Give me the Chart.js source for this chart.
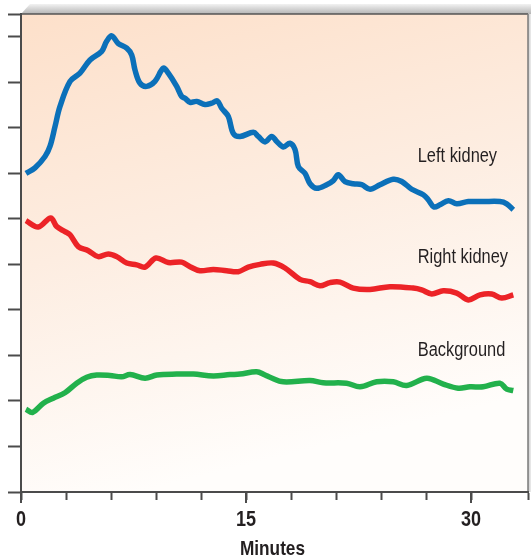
<!DOCTYPE html>
<html>
<head>
<meta charset="utf-8">
<script src="https://cdn.jsdelivr.net/npm/chart.js@4.4.1/dist/chart.umd.min.js"></script>
<style>
  html, body { margin: 0; padding: 0; background: #fff; }
  #wrap { width: 531px; height: 559px; position: relative; }
</style>
</head>
<body>
<div id="wrap"><canvas id="renogram"></canvas></div>
<script>
// Renogram activity curves (arbitrary counts vs. minutes)
const leftKidneyMin = [0.33, 0.93, 1.6, 1.93, 2.27, 2.6, 3.27, 3.93, 4.6, 5.38, 5.71, 6.05, 6.49, 7.05, 7.38, 7.6, 7.93, 8.38, 8.93, 9.49, 9.82, 10.38, 10.71, 10.93, 11.27, 11.71, 12.27, 12.71, 13.09, 13.38, 13.82, 14.15, 14.6, 15.49, 15.82, 16.27, 16.71, 17.05, 17.49, 17.93, 18.27, 18.49, 18.93, 19.27, 19.71, 20.38, 20.82, 21.15, 21.6, 22.15, 22.71, 23.27, 23.93, 24.82, 25.38, 26.05, 26.82, 27.15, 27.53, 27.93, 28.49, 29.05, 29.82, 30.82, 31.93, 32.38, 32.82];
const leftKidneyVal = [7.0, 7.12, 7.37, 7.59, 8.03, 8.47, 9.02, 9.2, 9.49, 9.68, 9.9, 10.02, 9.85, 9.75, 9.6, 9.27, 8.98, 8.91, 9.02, 9.31, 9.2, 8.91, 8.69, 8.65, 8.56, 8.58, 8.51, 8.54, 8.59, 8.43, 8.25, 7.88, 7.81, 7.9, 7.81, 7.69, 7.81, 7.7, 7.58, 7.66, 7.52, 7.15, 7.0, 6.77, 6.67, 6.75, 6.84, 6.97, 6.82, 6.77, 6.75, 6.65, 6.75, 6.87, 6.82, 6.65, 6.53, 6.42, 6.26, 6.31, 6.4, 6.33, 6.38, 6.38, 6.38, 6.33, 6.2];

const rightKidneyMin = [0.33, 1.15, 1.98, 2.38, 2.93, 3.27, 3.82, 4.49, 5.15, 5.82, 6.38, 7.05, 7.71, 8.27, 9.0, 9.82, 10.71, 11.27, 11.93, 12.82, 13.71, 14.49, 15.15, 15.93, 16.82, 17.6, 18.6, 19.27, 19.93, 20.6, 21.27, 22.15, 23.27, 24.6, 26.15, 26.71, 27.38, 28.15, 29.05, 29.82, 30.6, 31.38, 32.05, 32.82];
const rightKidneyVal = [5.96, 5.82, 6.02, 5.83, 5.72, 5.65, 5.39, 5.3, 5.17, 5.23, 5.17, 5.03, 4.99, 4.94, 5.14, 5.04, 5.05, 4.95, 4.86, 4.89, 4.86, 4.84, 4.94, 5.0, 5.03, 4.92, 4.67, 4.62, 4.53, 4.6, 4.61, 4.48, 4.45, 4.51, 4.48, 4.44, 4.35, 4.42, 4.37, 4.22, 4.33, 4.35, 4.26, 4.33];

const backgroundMin = [0.33, 0.78, 1.49, 2.15, 2.93, 3.71, 4.38, 5.05, 5.93, 6.71, 7.27, 8.27, 9.05, 10.38, 11.49, 12.82, 13.93, 14.6, 15.71, 16.27, 16.6, 17.49, 19.27, 20.15, 21.71, 22.6, 23.71, 24.82, 25.71, 27.05, 28.15, 29.15, 29.93, 30.82, 31.93, 32.38, 32.82];
const backgroundVal = [1.82, 1.75, 1.95, 2.06, 2.18, 2.39, 2.52, 2.57, 2.56, 2.53, 2.58, 2.5, 2.57, 2.59, 2.59, 2.55, 2.58, 2.59, 2.64, 2.57, 2.52, 2.42, 2.45, 2.4, 2.39, 2.31, 2.42, 2.42, 2.34, 2.5, 2.37, 2.28, 2.31, 2.31, 2.39, 2.26, 2.23];

const seriesNames = ['Left kidney', 'Right kidney', 'Background'];
const seriesColors = ['#0b70b9', '#ec2327', '#22b14c'];
// where each curve's name sits (minutes, value)
const nameMin = [26.45, 26.45, 26.45];
const nameVal = [7.38, 5.16, 3.1];

const xLabelled = [0, 15, 30];
const xTitle = 'Minutes';

const textColor = '#231f20';
const axisColor = '#4b4b4b';
const font = "'Liberation Sans', Arial, sans-serif";
const squeeze = 0.82;   // condensed lettering

function toPoints(xs, ys) {
  return xs.map((x, i) => ({ x: x, y: ys[i] }));
}

function narrowText(ctx, text, x, y) {
  ctx.save();
  ctx.translate(x, y);
  ctx.scale(squeeze, 1);
  ctx.fillText(text, 0, 0);
  ctx.restore();
}

// shaded panel, box edges and all lettering
const panelPlugin = {
  id: 'panel',
  beforeDraw(chart) {
    const { ctx, chartArea: a } = chart;
    ctx.save();
    const bg = ctx.createLinearGradient(a.left, a.top, a.left + 120, a.bottom);
    bg.addColorStop(0, '#fde0ca');
    bg.addColorStop(0.5, '#fdede1');
    bg.addColorStop(1, '#fffdfb');
    ctx.fillStyle = bg;
    ctx.fillRect(a.left, a.top, a.right - a.left, a.bottom - a.top);

    // top face of the box
    const top = ctx.createLinearGradient(0, a.top - 10, 0, a.top);
    top.addColorStop(0, '#f2f2f2');
    top.addColorStop(1, '#b4b4b4');
    ctx.fillStyle = top;
    ctx.beginPath();
    ctx.moveTo(a.left, a.top);
    ctx.lineTo(a.left + 9, a.top - 10);
    ctx.lineTo(chart.width, a.top - 10);
    ctx.lineTo(chart.width, a.top);
    ctx.closePath();
    ctx.fill();

    // right face
    const side = ctx.createLinearGradient(a.right, 0, chart.width, 0);
    side.addColorStop(0, '#c8c8c8');
    side.addColorStop(1, '#ececec');
    ctx.fillStyle = side;
    ctx.fillRect(a.right, a.top, chart.width - a.right, a.bottom - a.top);

    ctx.strokeStyle = '#555';
    ctx.lineWidth = 1.5;
    ctx.beginPath();
    ctx.moveTo(a.left, a.top);
    ctx.lineTo(a.right, a.top);
    ctx.stroke();
    ctx.strokeStyle = '#7a7a7a';
    ctx.beginPath();
    ctx.moveTo(a.right, a.top);
    ctx.lineTo(a.right, a.bottom);
    ctx.stroke();
    ctx.restore();
  },
  afterDraw(chart) {
    const { ctx, scales, chartArea: a } = chart;
    ctx.save();
    ctx.fillStyle = textColor;

    // curve names
    ctx.font = '20px ' + font;
    ctx.textAlign = 'left';
    ctx.textBaseline = 'middle';
    seriesNames.forEach((name, i) => {
      narrowText(ctx, name, scales.x.getPixelForValue(nameMin[i]), scales.y.getPixelForValue(nameVal[i]));
    });

    // longer marks under the labelled minutes
    ctx.strokeStyle = axisColor;
    ctx.lineWidth = 2;
    xLabelled.forEach(v => {
      const px = Math.round(scales.x.getPixelForValue(v));
      ctx.beginPath();
      ctx.moveTo(px, a.bottom);
      ctx.lineTo(px, a.bottom + 11);
      ctx.stroke();
    });

    // minute labels and axis title
    ctx.font = 'bold 22px ' + font;
    ctx.textAlign = 'center';
    xLabelled.forEach(v => {
      narrowText(ctx, String(v), scales.x.getPixelForValue(v), a.bottom + 28);
    });
    ctx.font = 'bold 21px ' + font;
    narrowText(ctx, xTitle, (a.left + a.right) / 2 - 2, a.bottom + 57);
    ctx.restore();
  }
};

new Chart(document.getElementById('renogram'), {
  type: 'line',
  data: {
    datasets: [
      { label: seriesNames[0], data: toPoints(leftKidneyMin, leftKidneyVal), borderColor: seriesColors[0] },
      { label: seriesNames[1], data: toPoints(rightKidneyMin, rightKidneyVal), borderColor: seriesColors[1] },
      { label: seriesNames[2], data: toPoints(backgroundMin, backgroundVal), borderColor: seriesColors[2] }
    ]
  },
  options: {
    responsive: true,
    maintainAspectRatio: false,
    animation: false,
    layout: { padding: { top: 14, right: 3, left: 0, bottom: 0 } },
    elements: {
      line: { borderWidth: 5.5, tension: 0.35, fill: false, borderCapStyle: 'butt', borderJoinStyle: 'round' },
      point: { radius: 0 }
    },
    plugins: {
      legend: { display: false },
      tooltip: { enabled: false }
    },
    scales: {
      x: {
        type: 'linear',
        min: 0,
        max: 33.8,
        afterFit: scale => { scale.height = 67; },
        grid: { drawOnChartArea: false, tickLength: 8, tickColor: axisColor, tickWidth: 2 },
        border: { color: axisColor, width: 2 },
        ticks: {
          stepSize: 3,
          autoSkip: false,
          maxRotation: 0,
          callback: () => ''
        }
      },
      y: {
        type: 'linear',
        min: 0,
        max: 10.5,
        afterFit: scale => { scale.width = 21; },
        grid: { drawOnChartArea: false, tickLength: 13, tickColor: axisColor, tickWidth: 2 },
        border: { color: axisColor, width: 2 },
        ticks: { stepSize: 1, display: false }
      }
    }
  },
  plugins: [panelPlugin]
});
</script>
</body>
</html>
